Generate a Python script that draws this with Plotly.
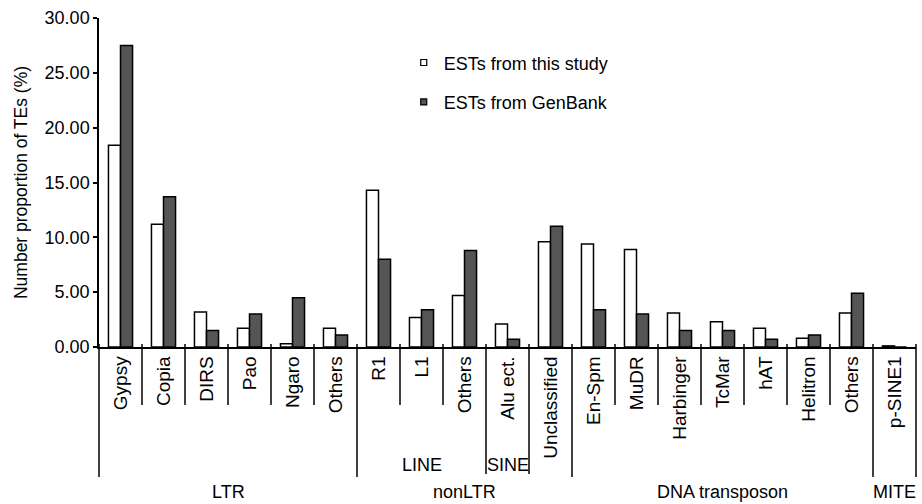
import plotly.graph_objects as go

# Transposable element classes, as counted in each EST set (%)
categories = ["Gypsy", "Copia", "DIRS", "Pao", "Ngaro", "Others",
              "R1", "L1", "Others", "Alu ect.", "Unclassified",
              "En-Spm", "MuDR", "Harbinger", "TcMar", "hAT", "Helitron", "Others",
              "p-SINE1"]
this_study = [18.4, 11.2, 3.2, 1.7, 0.3, 1.7,
              14.3, 2.7, 4.7, 2.1, 9.6,
              9.4, 8.9, 3.1, 2.3, 1.7, 0.8, 3.1,
              0.1]
genbank = [27.5, 13.7, 1.5, 3.0, 4.5, 1.1,
           8.0, 3.4, 8.8, 0.7, 11.0,
           3.4, 3.0, 1.5, 1.5, 0.7, 1.1, 4.9,
           0.0]
y_ticks = [0, 5, 10, 15, 20, 25, 30]

# Grouping of the classes: (label, first index, last index)
subgroups = [("LINE", 6, 8), ("SINE", 9, 9)]
groups = [("LTR", 0, 5), ("nonLTR", 6, 10), ("DNA transposon", 11, 17), ("MITE", 18, 18)]

FONT = "Liberation Sans, Arial, sans-serif"
DARK = "#555555"
n = len(categories)
idx = list(range(n))

fig = go.Figure()
fig.add_bar(x=idx, y=this_study, name="ESTs from this study",
            marker=dict(color="white", line=dict(color="black", width=1.5)),
            showlegend=False)
fig.add_bar(x=idx, y=genbank, name="ESTs from GenBank",
            marker=dict(color=DARK, line=dict(color="black", width=1.5)),
            showlegend=False)

# small square keys for the legend
fig.add_scatter(x=[None], y=[None], mode="markers", name="ESTs from this study",
                marker=dict(symbol="square", size=6, color="white",
                            line=dict(color="black", width=1.2)),
                legendgroup="a")
fig.add_scatter(x=[None], y=[None], mode="markers", name="ESTs from GenBank",
                marker=dict(symbol="square", size=6, color=DARK,
                            line=dict(color="black", width=1.2)),
                legendgroup="b")


def px(b):
    """category-axis position -> paper x"""
    return (b + 0.5) / n


shapes = []
top = 0.009
short_end, mid_end, long_end = -0.176, -0.386, -0.395
group_edges = {-0.5, 5.5, 10.5, 17.5, 18.5}
sub_edges = {8.5, 9.5}
for k in range(n + 1):
    b = k - 0.5
    if b in group_edges:
        y1 = long_end
    elif b in sub_edges:
        y1 = mid_end
    else:
        y1 = short_end
    shapes.append(dict(type="line", xref="paper", yref="paper",
                       x0=px(b), x1=px(b), y0=top, y1=y1,
                       line=dict(color="black", width=1.5)))

annotations = []
for label, a, b in subgroups:
    annotations.append(dict(text=label, xref="x", yref="paper", x=(a + b) / 2, y=-0.359,
                            showarrow=False, xanchor="center", yanchor="middle",
                            font=dict(size=18, color="black", family=FONT)))
for label, a, b in groups:
    annotations.append(dict(text=label, xref="x", yref="paper", x=(a + b) / 2, y=-0.441,
                            showarrow=False, xanchor="center", yanchor="middle",
                            font=dict(size=18, color="black", family=FONT)))

fig.update_layout(
    width=922, height=504,
    margin=dict(l=99, r=6, t=18, b=157),
    paper_bgcolor="white", plot_bgcolor="white",
    font=dict(family=FONT, size=18, color="black"),
    barmode="group", bargap=0.44, bargroupgap=0,
    shapes=shapes, annotations=annotations,
    legend=dict(x=0.373, y=0.92, xanchor="left", yanchor="top",
                bgcolor="rgba(0,0,0,0)", font=dict(size=18),
                itemwidth=30, traceorder="grouped", tracegroupgap=13),
)
fig.update_xaxes(range=[-0.5, n - 0.5], tickmode="array", tickvals=idx, ticktext=categories,
                 tickangle=-90, ticks="", showline=True, linecolor="black", linewidth=1.5,
                 showgrid=False, zeroline=False, tickfont=dict(size=19))
fig.update_yaxes(range=[0, 30], tickmode="array", tickvals=y_ticks, tickformat=".2f",
                 ticks="outside", ticklen=4, tickwidth=1.5, tickcolor="black",
                 showline=True, linecolor="black", linewidth=1.5,
                 showgrid=False, zeroline=False, tickfont=dict(size=18),
                 title=dict(text="Number proportion of TEs (%)", font=dict(size=17.5), standoff=12))

fig.write_html("out.html")
